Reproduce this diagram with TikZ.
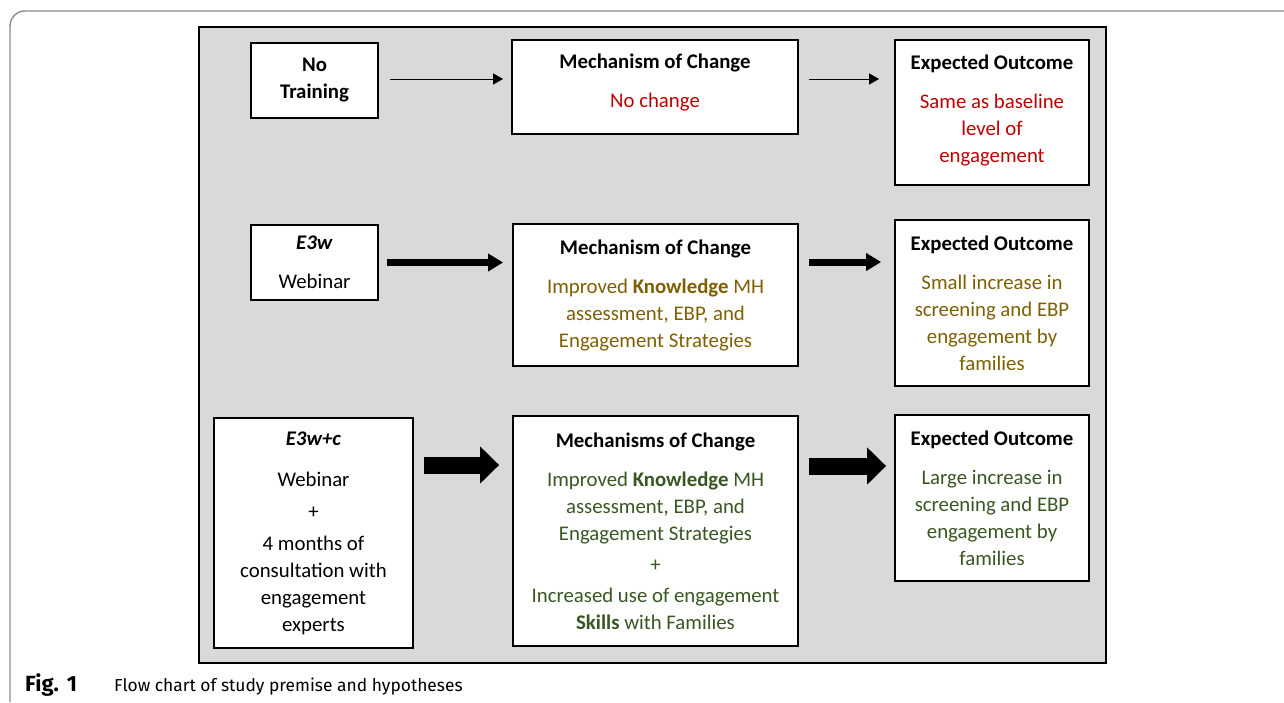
\documentclass[tikz,border=0pt]{standalone}
\usepackage{fontspec}
\setmainfont{Carlito}
\newfontfamily\capfont{Fira Sans}
\usetikzlibrary{arrows.meta}

\definecolor{panelgray}{HTML}{D9D9D9}
\definecolor{framegray}{HTML}{8C8C8C}
\definecolor{nochg}{HTML}{C00000}
\definecolor{webin}{HTML}{7F6000}
\definecolor{consult}{HTML}{385723}

\tikzset{
  x=1pt, y=-1pt,
  box/.style={draw=black, line width=1.8pt, fill=white, inner sep=0pt,
    align=center, font=\fontsize{20.8}{27}\selectfont},
  boxtext/.style={inner sep=0pt, align=center, font=\fontsize{20.8}{27}\selectfont},
  thinarrow/.style={line width=1pt, -{Triangle[length=10pt,width=11pt]}},
  thickarrow/.style={line width=7pt, -{Triangle[length=15pt,width=17pt]}},
  blockarrow/.style={line width=17pt, -{Triangle[length=19pt,width=36pt]}},
}

\begin{document}
\begin{tikzpicture}
\useasboundingbox[fill=white] (0,0) rectangle (1284,702);

% outer figure frame with rounded corner
\draw[framegray, line width=1.4pt] (10,702) -- (10,26)
  arc[start angle=180, end angle=270, radius=15] -- (1284,11);

% grey panel
\node[draw=black, line width=2pt, fill=panelgray, inner sep=0pt,
  minimum width=907pt, minimum height=636pt] (panel) at (652.5,345) {};

% row 1: no training
\node[box, minimum width=127pt, minimum height=75pt] (notrain) at (314.5,80.5)
  {\textbf{No}\\\textbf{Training}};
\node[box, minimum width=286pt, minimum height=94pt] (mech1) at (655,87) {};
\node[boxtext] (mech1txt) at ([yshift=5pt]mech1.center)
  {\textbf{Mechanism of Change}\\[12pt]\textcolor{nochg}{No change}};
\node[box, minimum width=194pt, minimum height=145pt] (exp1) at (992,112.5) {};
\node[boxtext] (exp1txt) at ([yshift=2pt]exp1.center)
  {\textbf{Expected Outcome}\\[12pt]\textcolor{nochg}{Same as baseline}\\
   \textcolor{nochg}{level of}\\\textcolor{nochg}{engagement}};

% row 2: webinar
\node[box, minimum width=127pt, minimum height=75pt] (e3w) at (314.5,262.5)
  {\textbf{\textit{E3w}}\\[12pt]Webinar};
\node[box, minimum width=285pt, minimum height=142pt] (mech2) at (655.5,295)
  {\textbf{Mechanism of Change}\\[12pt]
   \textcolor{webin}{Improved \textbf{Knowledge} MH}\\
   \textcolor{webin}{assessment, EBP, and}\\
   \textcolor{webin}{Engagement Strategies}};
\node[box, minimum width=194pt, minimum height=166pt] (exp2) at (992,303)
  {\textbf{Expected Outcome}\\[12pt]
   \textcolor{webin}{Small increase in}\\
   \textcolor{webin}{screening and EBP}\\
   \textcolor{webin}{engagement by}\\
   \textcolor{webin}{families}};

% row 3: webinar plus consultation
\node[box, minimum width=199pt, minimum height=230pt] (e3wc) at (313.5,533)
  {\textbf{\textit{E3w+c}}\\[14pt]Webinar\\[5pt]+\\[5pt]4 months of\\
   consultation with\\engagement\\experts};
\node[box, minimum width=285pt, minimum height=230pt] (mech3) at (655.5,531)
  {\textbf{Mechanisms of Change}\\[12pt]
   \textcolor{consult}{Improved \textbf{Knowledge} MH}\\
   \textcolor{consult}{assessment, EBP, and}\\
   \textcolor{consult}{Engagement Strategies}\\[4pt]
   \textcolor{consult}{+}\\[4pt]
   \textcolor{consult}{Increased use of engagement}\\
   \textcolor{consult}{\textbf{Skills} with Families}};
\node[box, minimum width=194pt, minimum height=166pt] (exp3) at (992,498)
  {\textbf{Expected Outcome}\\[12pt]
   \textcolor{consult}{Large increase in}\\
   \textcolor{consult}{screening and EBP}\\
   \textcolor{consult}{engagement by}\\
   \textcolor{consult}{families}};

% connectors
\path (notrain.east) ++(0,-1.5) coordinate (r1a);
\path (mech1.east) ++(0,-8) coordinate (r1b);
\draw[thinarrow, shorten <=11pt, shorten >=8pt] (r1a) -- (r1a -| mech1.west);
\draw[thinarrow, shorten <=10pt, shorten >=15pt] (r1b) -- (r1b -| exp1.west);

\path (e3w.east) ++(0,0) coordinate (r2a);
\path (mech2.east) ++(0,-33) coordinate (r2b);
\draw[thickarrow, shorten <=8pt, shorten >=9pt] (r2a) -- (r2a -| mech2.west);
\draw[thickarrow, shorten <=10pt, shorten >=13pt] (r2b) -- (r2b -| exp2.west);

\path (e3wc.east) ++(0,-68) coordinate (r3a);
\path (mech3.east) ++(0,-65) coordinate (r3b);
\draw[blockarrow, shorten <=10pt, shorten >=13pt] (r3a) -- (r3a -| mech3.west);
\draw[blockarrow, shorten <=10pt, shorten >=8pt] (r3b) -- (r3b -| exp3.west);

% caption
\node[anchor=base west, inner sep=0pt, font=\capfont\fontsize{17.4}{20}\selectfont]
  (caption) at (25,691)
  {\makebox[89pt][l]{\fontsize{22}{22}\selectfont\textbf{Fig.\hspace{8pt}1}}Flow chart of study premise and hypotheses};
\end{tikzpicture}
\end{document}
